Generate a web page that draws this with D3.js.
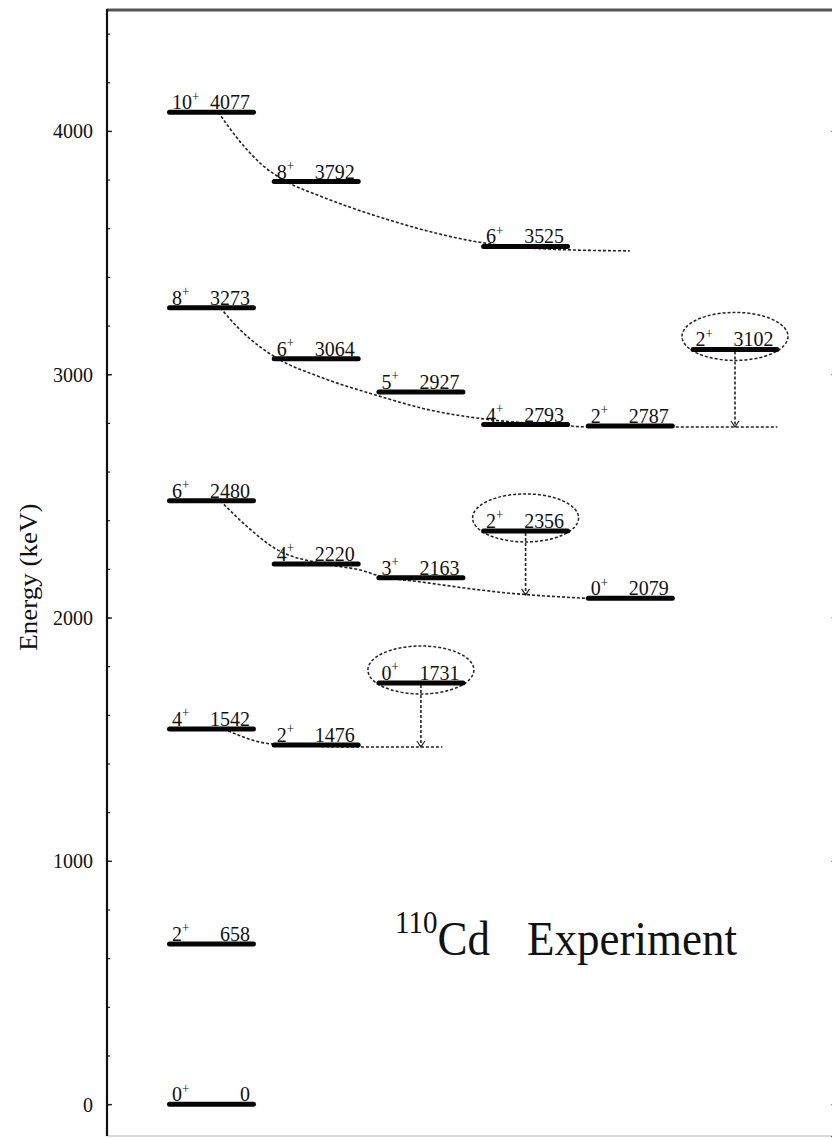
<!DOCTYPE html>
<html>
<head>
<meta charset="utf-8">
<script src="https://cdn.jsdelivr.net/npm/d3@7/dist/d3.min.js"></script>
<style>
  html, body { margin: 0; padding: 0; background: #fff; }
  svg { display: block; }
  text { font-family: "Liberation Serif", "Times New Roman", Times, serif; fill: #111; }
</style>
</head>
<body>
<svg id="chart" width="832" height="1138"></svg>
<script>
// ---- Level scheme of 110Cd (experimental energies in keV) ----
const levelSpin   = [0, 2, 4, 6, 8, 10,   2, 4, 6, 8,   0, 3, 5,   2, 4, 6,   0, 2,   2];
const levelParity = ["+", "+", "+", "+", "+", "+", "+", "+", "+", "+", "+", "+", "+", "+", "+", "+", "+", "+", "+"];
const levelEnergy = [0, 658, 1542, 2480, 3273, 4077,   1476, 2220, 3064, 3792,   1731, 2163, 2927,   2356, 2793, 3525,   2079, 2787,   3102];
const levelColumn = [0, 0, 0, 0, 0, 0,   1, 1, 1, 1,   2, 2, 2,   3, 3, 3,   4, 4,   5];

// Levels singled out with a dashed ring
const circledEnergies = [1731, 2356, 3102];

// Band guide lines: [column position, energy]
const guideA = [[0.48, 4077], [0.69, 3955], [0.90, 3860], [1.12, 3794], [1.45, 3733], [2.05, 3642], [3.01, 3540], [3.84, 3511], [4.41, 3507]];
const guideB = [[0.50, 3273], [0.69, 3182], [0.88, 3112], [1.07, 3059], [1.45, 2989], [1.98, 2915], [2.50, 2853], [3.02, 2816], [3.74, 2791], [3.97, 2784], [5.82, 2783]];
const guideC = [[0.50, 2480], [0.76, 2372], [1.03, 2282], [1.55, 2216], [1.84, 2195], [2.02, 2171], [2.42, 2146], [3.24, 2101], [3.99, 2079]];
const guideD = [[0.53, 1542], [1.0, 1480], [1.83, 1468], [2.62, 1468]];
const guides = [guideA, guideB, guideC, guideD];

// Decays of the ringed levels onto the band guides: [from energy, to energy]
const decayFrom = [1731, 2356, 3102];
const decayTo   = [1468, 2093, 2783];

// Axis ticks
const majorTicks = [0, 1000, 2000, 3000, 4000];
const minorTicks = d3.range(0, 4500, 200);

const yLabel = "Energy (keV)";
const massNumber = "110";
const element = "Cd";
const panelTitle = "Experiment";

// ---- Layout ----
const svg = d3.select("#chart");
const frame = { left: 107, right: 836, top: 10, bottom: 1136 };
const colStart = 168, colStep = 104.7, barWidth = 87;
const textStretch = 1.08;

const y = d3.scaleLinear().domain([-131, 4497]).range([frame.bottom, frame.top]);
const colX = d3.scaleLinear().domain([0, 1]).range([colStart, colStart + colStep]);

const levels = levelEnergy.map((e, i) => ({
  spin: levelSpin[i], parity: levelParity[i], energy: e, col: levelColumn[i]
}));

// Frame: top and bottom edges
svg.append("line")
  .attr("x1", frame.left).attr("x2", frame.right)
  .attr("y1", frame.top).attr("y2", frame.top)
  .attr("stroke", "#555").attr("stroke-width", 3);
svg.append("line")
  .attr("x1", frame.left).attr("x2", frame.right)
  .attr("y1", frame.bottom).attr("y2", frame.bottom)
  .attr("stroke", "#b5b5b5").attr("stroke-width", 1);

// Left axis: minor ticks, then major ticks with labels
const minorAxis = svg.append("g")
  .attr("transform", `translate(${frame.left},0)`)
  .call(d3.axisLeft(y).tickValues(minorTicks).tickSize(-3).tickFormat(""));
minorAxis.select(".domain").remove();
minorAxis.selectAll("line").attr("stroke", "#222").attr("stroke-width", 1.2);

const majorAxis = svg.append("g")
  .attr("transform", `translate(${frame.left},0)`)
  .call(d3.axisLeft(y).tickValues(majorTicks).tickSize(-5).tickPadding(14).tickFormat(d3.format("d")));
majorAxis.select(".domain").remove();
majorAxis.selectAll("line").attr("stroke", "#222").attr("stroke-width", 1.4);
majorAxis.selectAll("text")
  .attr("font-size", 20)
  .attr("font-family", "Liberation Serif, Times New Roman, serif")
  .attr("fill", "#1a1a1a")
  .attr("transform", `scale(1,${textStretch})`);

svg.append("line")
  .attr("x1", frame.left).attr("x2", frame.left)
  .attr("y1", frame.top - 1).attr("y2", frame.bottom)
  .attr("stroke", "#111").attr("stroke-width", 2.2);

// Right axis (frame edge sits just past the canvas)
const rightAxis = svg.append("g")
  .attr("transform", `translate(${frame.right},0)`)
  .call(d3.axisRight(y).tickValues(majorTicks).tickSize(-5).tickFormat(""));
rightAxis.select(".domain").attr("stroke", "#555");
rightAxis.selectAll("line").attr("stroke", "#999").attr("stroke-width", 1.2);

// Axis title
svg.append("text")
  .attr("transform", `translate(37,${y(2166)}) rotate(-90)`)
  .attr("text-anchor", "middle")
  .attr("font-size", 25)
  .attr("textLength", 147)
  .attr("lengthAdjust", "spacingAndGlyphs")
  .text(yLabel);

// Band guide lines (dashed)
const guideLine = d3.line()
  .x(d => colX(d[0]))
  .y(d => y(d[1]))
  .curve(d3.curveMonotoneX);

svg.append("g").selectAll("path")
  .data(guides)
  .join("path")
  .attr("d", guideLine)
  .attr("fill", "none")
  .attr("stroke", "#222")
  .attr("stroke-width", 1.6)
  .attr("stroke-dasharray", "3,2");

// Decay arrows from ringed levels
const decays = decayFrom.map((e, i) => {
  const lv = levels.find(l => l.energy === e);
  return { x: colX(lv.col) + barWidth / 2, y1: y(e), y2: y(decayTo[i]) };
});
const decayG = svg.append("g");
decayG.selectAll("line")
  .data(decays)
  .join("line")
  .attr("x1", d => d.x).attr("x2", d => d.x)
  .attr("y1", d => d.y1 + 2).attr("y2", d => d.y2)
  .attr("stroke", "#222").attr("stroke-width", 1.6)
  .attr("stroke-dasharray", "3,2");
decayG.selectAll("path")
  .data(decays)
  .join("path")
  .attr("d", d => `M${d.x - 4},${d.y2 - 6}L${d.x},${d.y2}L${d.x + 4},${d.y2 - 6}`)
  .attr("fill", "none")
  .attr("stroke", "#222").attr("stroke-width", 1.2);

// Dashed rings around the singled-out levels
svg.append("g").selectAll("ellipse")
  .data(levels.filter(l => circledEnergies.includes(l.energy)))
  .join("ellipse")
  .attr("cx", d => colX(d.col) + barWidth / 2)
  .attr("cy", d => y(d.energy) - 13)
  .attr("rx", 53)
  .attr("ry", 24)
  .attr("fill", "none")
  .attr("stroke", "#222")
  .attr("stroke-width", 1.5)
  .attr("stroke-dasharray", "3,2");

// Level bars
svg.append("g").selectAll("line")
  .data(levels)
  .join("line")
  .attr("x1", d => colX(d.col) + 1.5)
  .attr("x2", d => colX(d.col) + barWidth - 1.5)
  .attr("y1", d => y(d.energy))
  .attr("y2", d => y(d.energy))
  .attr("stroke", "#050505")
  .attr("stroke-width", 5)
  .attr("stroke-linecap", "round");

// Level labels: spin-parity on the left, energy on the right
const labelG = svg.append("g");
const spinText = labelG.selectAll("text.spin")
  .data(levels)
  .join("text")
  .attr("class", "spin")
  .attr("transform", d => `translate(${colX(d.col) + 4},${y(d.energy) - 3}) scale(1,${textStretch})`)
  .attr("font-size", 20);
spinText.append("tspan").text(d => d.spin);
spinText.append("tspan")
  .attr("font-size", 13)
  .attr("dy", -8)
  .text(d => d.parity);

labelG.selectAll("text.energy")
  .data(levels)
  .join("text")
  .attr("class", "energy")
  .attr("transform", d => `translate(${colX(d.col) + barWidth - 5},${y(d.energy) - 3}) scale(1,${textStretch})`)
  .attr("text-anchor", "end")
  .attr("font-size", 20)
  .text(d => d.energy);

// Panel title
const title = svg.append("text")
  .attr("transform", `translate(395,955) scale(1,${textStretch})`);
title.append("tspan")
  .attr("font-size", 29)
  .attr("dy", -20)
  .text(massNumber);
title.append("tspan")
  .attr("font-size", 45)
  .attr("dy", 20)
  .text(element);
title.append("tspan")
  .attr("x", 132)
  .attr("font-size", 45)
  .text(panelTitle);
</script>
</body>
</html>
